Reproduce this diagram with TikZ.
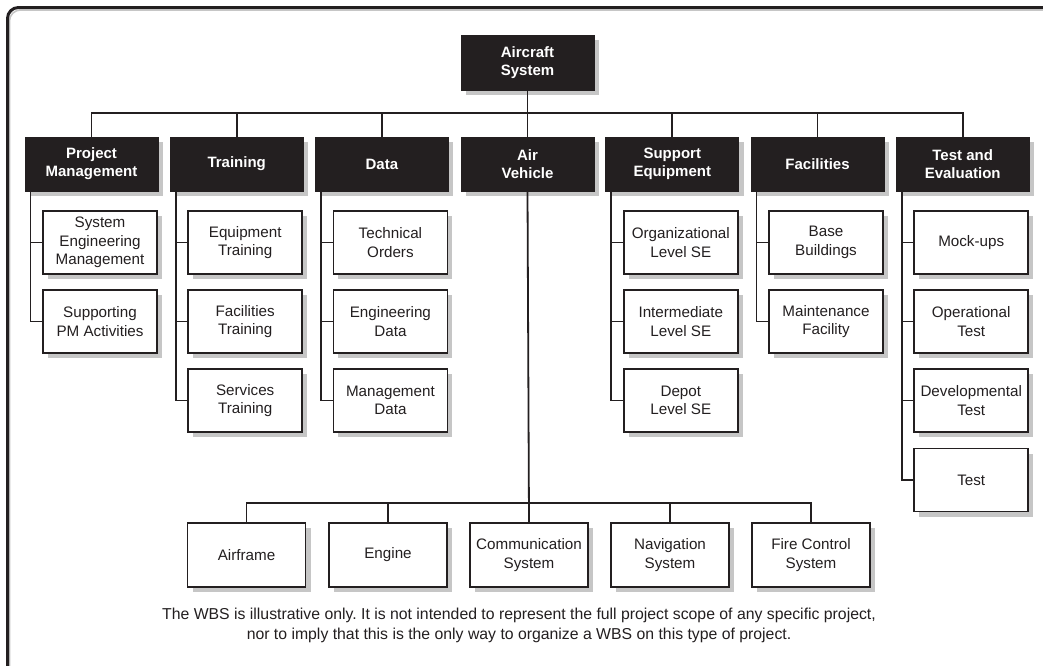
\documentclass[tikz,border=0pt]{standalone}
\usepackage{fontspec}
\setmainfont{Liberation Sans}
\usetikzlibrary{shadows}
\definecolor{boxblack}{HTML}{231F20}
\definecolor{shadowgray}{HTML}{C6C6C6}
\frenchspacing
\tikzset{
  shadowed/.style={drop shadow={shadow xshift=5pt, shadow yshift=-5pt, fill=shadowgray, opacity=1}},
  headbox/.style={shadowed, fill=boxblack, draw=boxblack, line width=1pt, text=white,
    font=\bfseries\fontsize{15}{18}\selectfont, minimum width=133pt, minimum height=54pt,
    align=center, inner sep=0pt},
  childbox/.style={shadowed, fill=white, draw=boxblack, line width=1.8pt, text=boxblack,
    font=\fontsize{15.2}{18.5}\selectfont, minimum width=114pt, minimum height=63pt,
    align=center, inner sep=0pt},
  lowbox/.style={childbox, minimum width=118pt, minimum height=64pt},
  conn/.style={draw=boxblack, line width=1.8pt},
}
\begin{document}
\begin{tikzpicture}[x=1pt,y=-1pt]
\useasboundingbox[fill=white] (0,0) rectangle (1043,665);
% frame
\draw[shadowgray, line width=1.5pt, rounded corners=11pt] (9.5,700) -- (9.5,10) -- (1060,10);
\draw[boxblack, line width=3pt, rounded corners=11pt] (7.5,700) -- (7.5,7.5) -- (1060,7.5);

% top
\node[headbox, minimum height=55pt] (ac) at (527.5,62.5) {Aircraft\\System};

% level 2
\node[headbox] (pm) at (91.5,164) {Project\\Management};
\node[headbox] (tr) at (236.7,164) {Training};
\node[headbox] (da) at (381.9,164) {Data};
\node[headbox] (av) at (527.5,164) {Air\\Vehicle};
\node[headbox] (se) at (672.3,164) {Support\\Equipment};
\node[headbox] (fa) at (817.5,164) {Facilities};
\node[headbox] (te) at (962.7,164) {Test and\\Evaluation};

% children
\node[childbox] (pm1) at (100,242.5) {System\\Engineering\\Management};
\node[childbox] (pm2) at (100,321.5) {Supporting\\PM Activities};
\node[childbox] (tr1) at (245.2,242.5) {Equipment\\Training};
\node[childbox] (tr2) at (245.2,321.5) {Facilities\\Training};
\node[childbox] (tr3) at (245.2,400.5) {Services\\Training};
\node[childbox] (da1) at (390.4,242.5) {Technical\\Orders};
\node[childbox] (da2) at (390.4,321.5) {Engineering\\Data};
\node[childbox] (da3) at (390.4,400.5) {Management\\Data};
\node[childbox] (se1) at (680.8,242.5) {Organizational\\Level SE};
\node[childbox] (se2) at (680.8,321.5) {Intermediate\\Level SE};
\node[childbox] (se3) at (680.8,400.5) {Depot\\Level SE};
\node[childbox] (fa1) at (826,242.5) {Base\\Buildings};
\node[childbox] (fa2) at (826,321.5) {Maintenance\\Facility};
\node[childbox] (te1) at (971.2,242.5) {Mock-ups};
\node[childbox] (te2) at (971.2,321.5) {Operational\\Test};
\node[childbox] (te3) at (971.2,400.5) {Developmental\\Test};
\node[childbox] (te4) at (971.2,480) {Test};

% air vehicle children
\node[lowbox] (b1) at (246.5,555) {Airframe};
\node[lowbox] (b2) at (388,555) {Engine};
\node[lowbox] (b3) at (529,555) {Communication\\System};
\node[lowbox] (b4) at (670,555) {Navigation\\System};
\node[lowbox] (b5) at (811,555) {Fire Control\\System};

% caption
\node[font=\fontsize{15.8}{20}\selectfont, text=boxblack, align=center] (cap) at (519,625)
  {The WBS is illustrative only. It is not intended to represent the full project scope of any specific project,\\
   nor to imply that this is the only way to organize a WBS on this type of project.};

% connectors level 1-2
\coordinate (busL) at (pm.north |- 0,113);
\draw[conn] (ac.south) -- (ac.south |- busL);
\draw[conn] (pm.north) -- (busL) -| (te.north);
\foreach \n in {tr,da,av,se,fa} \draw[conn] (\n.north) -- (\n.north |- busL);

% spines
\foreach \p/\last/\mids in {pm/pm2/{pm1}, tr/tr3/{tr1,tr2}, da/da3/{da1,da2}, se/se3/{se1,se2}, fa/fa2/{fa1}, te/te4/{te1,te2,te3}}{
  \coordinate (\p s) at ([xshift=6pt]\p.south west);
  \draw[conn] (\p s) |- (\last.west);
  \foreach \m in \mids \draw[conn] (\m.west) -- (\m.west -| \p s);
}

% air vehicle
\draw[conn] (av.south) -- (b3.north);
\coordinate (bus2) at (b1.north |- 0,503);
\draw[conn] (b1.north) -- (bus2) -| (b5.north);
\foreach \n in {b2,b4} \draw[conn] (\n.north) -- (\n.north |- bus2);
\end{tikzpicture}
\end{document}
